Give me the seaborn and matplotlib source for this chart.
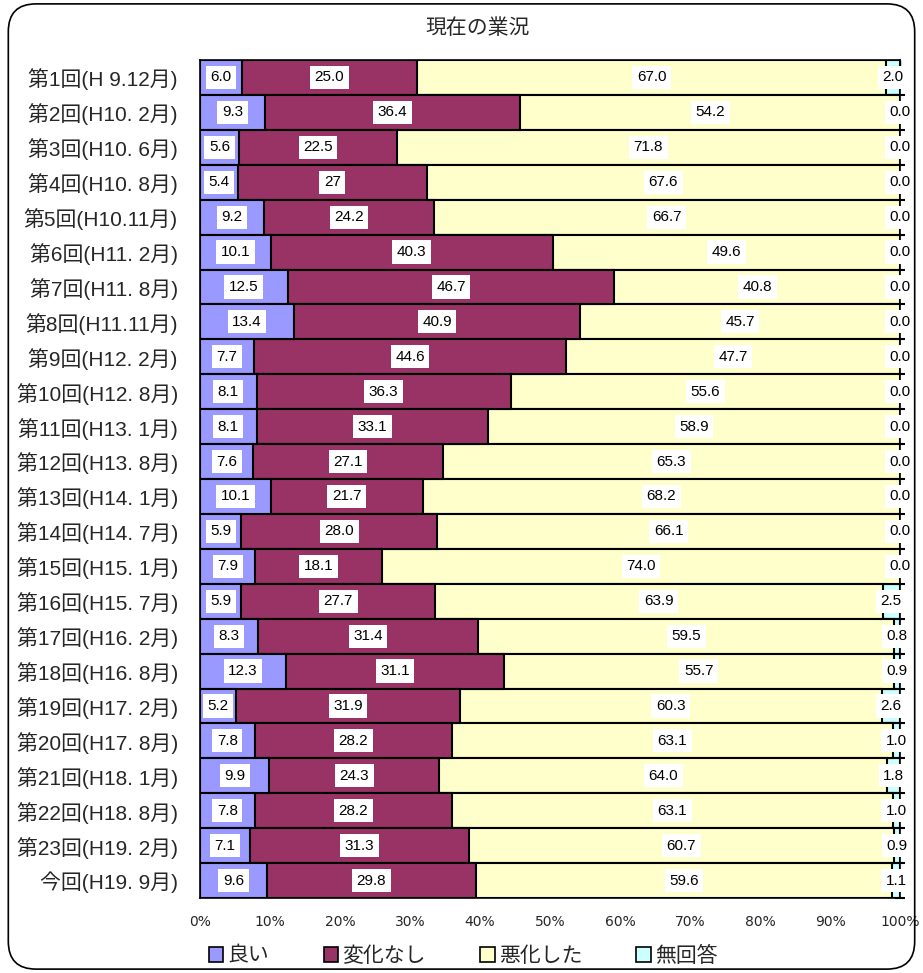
import numpy as np
import pandas as pd
import matplotlib
matplotlib.use("Agg")
import matplotlib.pyplot as plt
from matplotlib.patches import FancyBboxPatch, Patch
import seaborn as sns

# 調査回
kaisuu = ["第1回(H 9.12月)", "第2回(H10. 2月)", "第3回(H10. 6月)", "第4回(H10. 8月)",
          "第5回(H10.11月)", "第6回(H11. 2月)", "第7回(H11. 8月)", "第8回(H11.11月)",
          "第9回(H12. 2月)", "第10回(H12. 8月)", "第11回(H13. 1月)", "第12回(H13. 8月)",
          "第13回(H14. 1月)", "第14回(H14. 7月)", "第15回(H15. 1月)", "第16回(H15. 7月)",
          "第17回(H16. 2月)", "第18回(H16. 8月)", "第19回(H17. 2月)", "第20回(H17. 8月)",
          "第21回(H18. 1月)", "第22回(H18. 8月)", "第23回(H19. 2月)", "今回(H19. 9月)"]

# 表示どおりの文字列で保持
yoi = ["6.0", "9.3", "5.6", "5.4", "9.2", "10.1", "12.5", "13.4", "7.7", "8.1", "8.1", "7.6",
       "10.1", "5.9", "7.9", "5.9", "8.3", "12.3", "5.2", "7.8", "9.9", "7.8", "7.1", "9.6"]
henka_nashi = ["25.0", "36.4", "22.5", "27", "24.2", "40.3", "46.7", "40.9", "44.6", "36.3",
               "33.1", "27.1", "21.7", "28.0", "18.1", "27.7", "31.4", "31.1", "31.9", "28.2",
               "24.3", "28.2", "31.3", "29.8"]
akka = ["67.0", "54.2", "71.8", "67.6", "66.7", "49.6", "40.8", "45.7", "47.7", "55.6",
        "58.9", "65.3", "68.2", "66.1", "74.0", "63.9", "59.5", "55.7", "60.3", "63.1",
        "64.0", "63.1", "60.7", "59.6"]
mukaitou = ["2.0", "0.0", "0.0", "0.0", "0.0", "0.0", "0.0", "0.0", "0.0", "0.0", "0.0", "0.0",
            "0.0", "0.0", "0.0", "2.5", "0.8", "0.9", "2.6", "1.0", "1.8", "1.0", "0.9", "1.1"]

series_names = ["良い", "変化なし", "悪化した", "無回答"]
series_colors = ["#9999FF", "#993366", "#FFFFCC", "#CCFFFF"]
xtick_labels = ["0%", "10%", "20%", "30%", "40%", "50%", "60%", "70%", "80%", "90%", "100%"]

jp = ["Liberation Sans", "Noto Sans CJK JP", "DejaVu Sans"]

sns.set_theme(style="white")
plt.rcParams["font.family"] = jp

raw = [yoi, henka_nashi, akka, mukaitou]
vals = np.array([[float(s) for s in col] for col in raw])  # (4, n)
pct = vals / vals.sum(axis=0) * 100  # 100%積み上げ
cum = np.cumsum(pct, axis=0)

fig = plt.figure(figsize=(9.23, 9.73), dpi=100)
frame = FancyBboxPatch((0.009, 0.004), 0.982, 0.992, boxstyle="round,pad=0,rounding_size=0.03",
                       transform=fig.transFigure, facecolor="none", edgecolor="black",
                       linewidth=1.2, mutation_aspect=923 / 973, zorder=10)
fig.patches.append(frame)

ax = fig.add_axes([200 / 923, 75 / 973, 700 / 923, 838 / 973])
ax.set_facecolor("white")

# 後ろから順に累積値を描く
for i in range(3, -1, -1):
    df = pd.DataFrame({"回": kaisuu, "値": cum[i]})
    sns.barplot(data=df, x="値", y="回", orient="h", color=series_colors[i], saturation=1,
                edgecolor="black", linewidth=1.5, width=1.0, ax=ax)

for i in range(4):
    for j in range(len(kaisuu)):
        center = cum[i, j] - pct[i, j] / 2
        ax.text(center, j, raw[i][j], ha="center", va="center", fontsize=11,
                family="Liberation Sans", color="black", zorder=5, clip_on=False,
                bbox=dict(boxstyle="square,pad=0.3", facecolor="white", edgecolor="none"))

ax.set_xlim(0, 100)
ax.set_ylim(len(kaisuu) - 0.5, -0.5)
ax.set_xticks(np.arange(0, 101, 10))
ax.set_xticklabels(xtick_labels, fontsize=10, family=["Liberation Sans Narrow", "DejaVu Sans"])
ax.tick_params(axis="x", bottom=False, top=True, direction="in", length=4, width=1,
               color="black", labelbottom=True, labeltop=False, pad=12)
ax.tick_params(axis="y", left=False, labelsize=15, pad=10)
ax.set_yticks(np.arange(len(kaisuu)) + 0.5, minor=True)
ax.tick_params(axis="y", which="minor", left=False, right=True, direction="inout",
               length=7, width=1.5, color="black", labelright=False)
ax.set_xlabel("")
ax.set_ylabel("")
for sp in ax.spines.values():
    sp.set_color("black")
    sp.set_linewidth(1.2)

fig.text(0.517, 0.971, "現在の業況", ha="center", va="center", fontsize=15, family=jp)

handles = [Patch(facecolor=c, edgecolor="black", linewidth=1.2) for c in series_colors]
fig.legend(handles, series_names, loc="center", bbox_to_anchor=(0.502, 0.018), ncol=4,
           frameon=False, fontsize=15, handlelength=0.7, handleheight=0.7,
           handletextpad=0.2, columnspacing=2.6)

fig.savefig("out.png", dpi=100)
